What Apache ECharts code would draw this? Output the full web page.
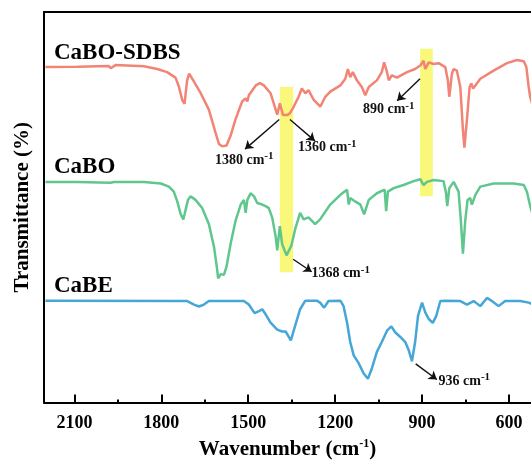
<!DOCTYPE html>
<html>
<head>
<meta charset="utf-8">
<script src="https://cdn.jsdelivr.net/npm/echarts@6/dist/echarts.min.js"></script>
<style>
  html, body { margin: 0; padding: 0; background: #fff; }
  #root { width: 531px; height: 465px; }
</style>
</head>
<body>
<div id="root"></div>
<script>
// [wavenumber (cm-1), transmittance (offset, a.u.)]
const caboSdbs = [
  [2200,85.9],[2090,86.0],[1981,86.2],[1975,85.6],[1958,86.4],[1860,86.1],[1814,85.4],[1780,84.6],
  [1751,83.2],[1739,80.8],[1728,77.5],[1720,76.5],[1711,82.5],[1704,84.2],[1693,82.9],[1664,79.2],
  [1636,75.0],[1613,69.1],[1601,66.2],[1590,65.6],[1575,65.8],[1561,68.3],[1544,72.5],[1521,77.1],
  [1509,77.9],[1503,77.1],[1498,78.7],[1474,81.2],[1460,81.8],[1446,81.2],[1423,79.2],[1400,73.7],
  [1391,76.6],[1380,73.6],[1366,73.6],[1356,74.1],[1344,75.6],[1326,78.3],[1315,80.4],[1303,79.2],
  [1292,80.0],[1274,77.5],[1251,75.8],[1234,78.3],[1217,79.6],[1182,81.2],[1165,82.9],[1156,85.4],
  [1148,83.3],[1139,84.6],[1125,82.5],[1108,80.8],[1096,78.7],[1084,80.8],[1056,82.5],[1039,84.6],
  [1031,87.1],[1021,84.6],[1015,82.5],[1004,83.8],[987,83.2],[952,84.6],[924,85.4],[906,86.3],
  [895,87.5],[889,85.4],[877,87.1],[860,86.7],[843,86.9],[820,85.9],[811,82.5],[806,78.3],
  [797,84.2],[791,85.4],[780,85.0],[768,80.8],[759,69.9],[754,65.3],[745,72.5],[736,80.8],
  [730,81.7],[724,80.4],[716,81.2],[699,82.9],[653,85.0],[607,86.9],[572,87.7],[549,87.4],
  [540,85.9],[532,80.8],[527,78.3],[520,76.5],[510,80.0],[495,84.0]
];
const cabo = [
  [2200,56.5],[2090,56.5],[1975,56.3],[1964,56.5],[1860,56.5],[1802,56.1],[1774,55.3],[1757,54.0],
  [1745,51.5],[1733,48.2],[1724,46.9],[1716,49.4],[1708,51.9],[1699,52.8],[1682,51.9],[1659,49.8],
  [1636,45.7],[1618,39.8],[1607,33.9],[1604,31.8],[1595,32.9],[1584,32.7],[1575,34.8],[1561,40.6],
  [1544,46.5],[1526,50.7],[1515,51.9],[1509,48.6],[1503,51.9],[1492,53.6],[1480,52.8],[1469,51.1],
  [1452,50.7],[1440,50.3],[1429,49.8],[1417,47.3],[1405,42.3],[1400,39.0],[1391,45.2],[1383,40.6],
  [1368,37.7],[1351,40.2],[1338,44.4],[1321,48.6],[1309,46.9],[1292,47.4],[1269,45.7],[1252,46.9],
  [1217,50.7],[1182,53.2],[1159,54.5],[1153,50.7],[1148,52.4],[1131,51.5],[1113,50.7],[1100,48.2],
  [1084,51.9],[1056,53.6],[1029,54.5],[1024,49.0],[1018,54.0],[998,54.9],[964,55.7],[929,56.7],
  [906,57.2],[895,55.7],[883,56.5],[860,57.0],[826,56.7],[818,54.0],[813,50.3],[806,54.9],
  [791,56.5],[774,54.0],[766,46.5],[759,38.1],[751,46.5],[743,51.9],[734,52.4],[728,50.7],
  [716,53.2],[699,55.3],[653,56.1],[584,56.1],[549,55.7],[538,54.0],[528,50.7],[520,48.5],
  [510,52.0],[495,55.0]
];
const cabe = [
  [2200,26.1],[1745,26.0],[1711,26.0],[1687,25.1],[1670,24.6],[1653,25.1],[1636,26.0],[1515,26.0],
  [1498,25.1],[1478,22.9],[1463,23.4],[1452,23.9],[1440,22.6],[1423,20.5],[1400,18.7],[1383,18.2],
  [1371,18.2],[1363,17.2],[1353,15.9],[1338,19.7],[1321,23.9],[1303,26.1],[1263,26.1],[1252,25.6],
  [1238,24.3],[1223,26.0],[1182,26.1],[1171,24.7],[1159,20.5],[1148,15.5],[1136,12.1],[1119,10.1],
  [1102,7.5],[1087,6.1],[1073,8.8],[1056,13.0],[1039,15.5],[1021,18.4],[1006,19.5],[993,18.0],
  [975,16.8],[958,15.5],[946,13.4],[935,10.6],[924,15.5],[914,22.2],[900,25.6],[889,23.1],
  [877,21.4],[863,20.4],[851,22.2],[837,26.0],[820,26.1],[768,26.0],[745,25.1],[722,26.0],
  [699,24.7],[676,26.8],[659,26.0],[636,24.7],[613,26.0],[561,26.0],[532,25.6],[515,25.0],[495,25.5]
];

const seriesNames = ['CaBO-SDBS', 'CaBO', 'CaBE'];
const xTicks = [2100, 1800, 1500, 1200, 900, 600];
const xMinorTicks = [1950, 1650, 1350, 1050, 750];
const xRange = [524, 2205]; // the picture is cut off at 524 cm-1

// highlighted bands [from, to, bottom, top]
const bands = [
  [1391, 1345, 33.4, 80.8],
  [907, 863, 52.8, 90.6]
];
// peak annotations: label, arrow start, arrow end, label anchor
const peakLabels = ['1380', '1360', '890', '1368', '936'];
const arrowFrom = [[1393,72.5],[1356,72.5],[907,82.9],[1345,36.7],[922,9.9]];
const arrowTo = [[1511,64.9],[1270,67.0],[986,77.3],[1281,33.5],[849,5.9]];
const labelAt = [[1615,62.1],[1328,65.3],[1104,75.0],[1282,33.0],[843,5.5]];

const serif = '"Liberation Serif", "DejaVu Serif", serif';
const chart = echarts.init(document.getElementById('root'));

const hiddenAxis = { show: false };
const option = {
  animation: false,
  grid: { left: 44, right: 0, top: 12, bottom: 55 },
  xAxis: [
    {
      type: 'value',
      inverse: true,
      min: xRange[0],
      max: xRange[1],
      axisLine: { show: true, onZero: false, lineStyle: { color: '#000', width: 2 } },
      axisTick: { show: true, inside: true, length: 8, customValues: xTicks, lineStyle: { color: '#000', width: 2 } },
      splitLine: { show: false },
      axisLabel: {
        margin: 12,
        color: '#000',
        fontFamily: serif,
        fontWeight: 'bold',
        fontSize: 18,
        customValues: xTicks,
        formatter: v => String(v)
      },
      name: '{a|Wavenumber (cm}{s|-1}{a|)}',
      nameLocation: 'middle',
      nameGap: 33,
      nameTextStyle: {
        rich: {
          a: { fontFamily: serif, fontWeight: 'bold', fontSize: 21, color: '#000', lineHeight: 24 },
          s: { fontFamily: serif, fontWeight: 'bold', fontSize: 12, color: '#000', verticalAlign: 'top', lineHeight: 12 }
        }
      }
    },
    {
      // short unlabelled ticks between the labelled ones
      type: 'value',
      inverse: true,
      position: 'bottom',
      min: xRange[0],
      max: xRange[1],
      axisLine: { show: false, onZero: false },
      axisTick: { show: true, inside: true, length: 3, customValues: xMinorTicks, lineStyle: { color: '#000', width: 2 } },
      axisLabel: hiddenAxis,
      splitLine: hiddenAxis
    },
    {
      // top frame line
      type: 'value',
      inverse: true,
      position: 'top',
      min: xRange[0],
      max: xRange[1],
      axisLine: { show: true, onZero: false, lineStyle: { color: '#000', width: 2 } },
      axisTick: hiddenAxis,
      axisLabel: hiddenAxis,
      splitLine: hiddenAxis
    }
  ],
  yAxis: {
    type: 'value',
    min: 0,
    max: 100,
    axisLine: { show: true, onZero: false, lineStyle: { color: '#000', width: 2 } },
    axisTick: { show: false },
    axisLabel: { show: false },
    splitLine: { show: false },
    name: 'Transmittance (%)',
    nameLocation: 'middle',
    nameGap: 11,
    nameTextStyle: { fontFamily: serif, fontWeight: 'bold', fontSize: 21, color: '#000' }
  },
  series: [
    { name: seriesNames[0], type: 'line', data: caboSdbs, showSymbol: false, lineStyle: { color: '#f28476', width: 2.5 }, itemStyle: { color: '#f28476' }, z: 2 },
    { name: seriesNames[1], type: 'line', data: cabo, showSymbol: false, lineStyle: { color: '#5fc78e', width: 2.5 }, itemStyle: { color: '#5fc78e' }, z: 2 },
    { name: seriesNames[2], type: 'line', data: cabe, showSymbol: false, lineStyle: { color: '#45a6d8', width: 2.5 }, itemStyle: { color: '#45a6d8' }, z: 2 },
    {
      type: 'line',
      data: [],
      z: 5,
      silent: true,
      markArea: {
        silent: true,
        itemStyle: { color: 'rgba(246,244,40,0.62)' },
        data: bands.map(b => [{ xAxis: b[0], yAxis: b[2] }, { xAxis: b[1], yAxis: b[3] }])
      },
      markLine: {
        silent: true,
        symbol: ['none', 'arrow'],
        symbolSize: 8,
        label: { show: false },
        lineStyle: { color: '#111', width: 1.4, type: 'solid' },
        data: arrowFrom.map((f, i) => [{ coord: f }, { coord: arrowTo[i] }])
      },
      markPoint: {
        silent: true,
        symbol: 'circle',
        symbolSize: 0,
        label: {
          show: true,
          position: 'right',
          distance: 0,
          rich: {
            a: { fontFamily: serif, fontWeight: 'bold', fontSize: 14, color: '#111', lineHeight: 18 },
            s: { fontFamily: serif, fontWeight: 'bold', fontSize: 11, color: '#111', verticalAlign: 'top', lineHeight: 11 }
          }
        },
        data: labelAt.map((c, i) => ({
          coord: c,
          label: { formatter: '{a|' + peakLabels[i] + ' cm}{s|-1}' }
        }))
      }
    }
  ],
  graphic: [
    { type: 'text', x: 54, y: 53, style: { text: seriesNames[0], fontFamily: serif, fontWeight: 'bold', fontSize: 23, fill: '#000', verticalAlign: 'middle' } },
    { type: 'text', x: 54, y: 167, style: { text: seriesNames[1], fontFamily: serif, fontWeight: 'bold', fontSize: 23, fill: '#000', verticalAlign: 'middle' } },
    { type: 'text', x: 54, y: 286, style: { text: seriesNames[2], fontFamily: serif, fontWeight: 'bold', fontSize: 23, fill: '#000', verticalAlign: 'middle' } }
  ]
};
chart.setOption(option);
</script>
</body>
</html>
